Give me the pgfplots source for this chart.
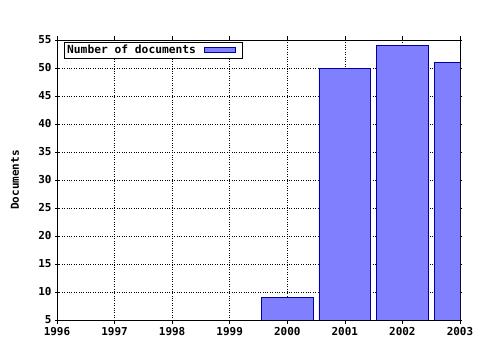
\documentclass[border=0pt]{standalone}
\usepackage{pgfplots}
\pgfplotsset{compat=1.18}
\usepackage{fontspec}
\setmainfont{DejaVu Sans Mono}
\setmonofont{DejaVu Sans Mono}
\definecolor{barfill}{HTML}{8080FF}
\definecolor{baredge}{HTML}{0000A0}
\begin{document}
\begin{tikzpicture}
\begin{axis}[
  at={(0,0)}, anchor=south west,
  scale only axis, width=403bp, height=280bp,
  xmin=1996, xmax=2003, ymin=5, ymax=55,
  xtick={1996,...,2003}, ytick={5,10,...,55},
  minor x tick num=3,
  xticklabel style={/pgf/number format/1000 sep=},
  /pgf/number format/assume math mode=true,
  tick label style={font=\fontsize{11}{13}\selectfont\bfseries},
  every axis y label/.style={at={(axis description cs:0,0.5)}, rotate=90, anchor=center, yshift=42bp,
    font=\fontsize{11}{13}\selectfont\bfseries},
  ylabel={Documents},
  tick align=center,
  major tick length=4bp, minor tick length=3bp,
  grid=major,
  major grid style={black, dotted, line width=0.6pt},
  axis line style={black, line width=0.8pt},
  tick style={black, line width=0.6pt},
  ybar, bar width=0.9,
  clip=true,
  legend plot pos=right,
  legend style={at={(axis cs:1996.12,54.7)}, anchor=north west, draw=black, line width=0.6pt,
    font=\fontsize{11.3}{13}\selectfont\bfseries, inner sep=1pt, row sep=0pt},
  legend image code/.code={\draw[#1, line width=0.6pt] (0bp,-2.5bp) rectangle (31bp,2.5bp); \path (37bp,0bp);},
]
\addplot[fill=barfill, draw=baredge, line width=0.7pt] coordinates {(2000,9) (2001,50) (2002,54) (2003,51)};
\addlegendentry{Number of documents\rule{6bp}{0pt}}
\end{axis}
\path (-57bp,-30bp) rectangle (423bp,320bp);
\end{tikzpicture}
\end{document}
